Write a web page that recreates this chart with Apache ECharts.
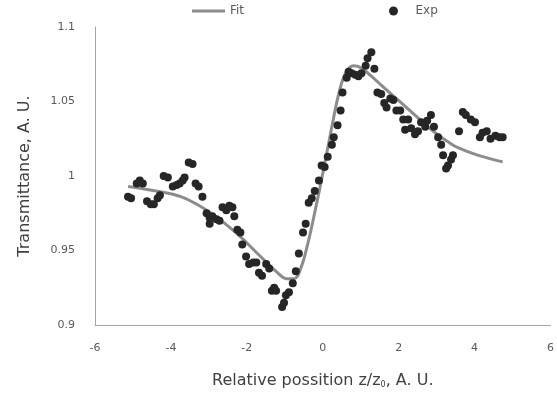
<!DOCTYPE html>
<html>
<head>
<meta charset="utf-8">
<script src="https://cdn.jsdelivr.net/npm/echarts@6/dist/echarts.min.js"></script>
<style>
  html, body { margin: 0; padding: 0; background: #fff; }
  #chart-container { width: 557px; height: 396px; }
</style>
</head>
<body>
<div id="chart-container"></div>
<script>
var expX = [-5.13, -5.05, -4.90, -4.82, -4.74, -4.63, -4.53, -4.45, -4.35, -4.29,
  -4.19, -4.08, -3.95, -3.85, -3.77, -3.69, -3.64, -3.53, -3.43, -3.35,
  -3.27, -3.17, -3.06, -2.98, -2.91, -2.98, -2.80, -2.72, -2.64, -2.54,
  -2.46, -2.38, -2.33, -2.25, -2.17, -2.12, -2.02, -1.94, -1.83, -1.75,
  -1.68, -1.60, -1.49, -1.41, -1.34, -1.28, -1.23, -1.07, -1.02, -0.97,
  -0.89, -0.79, -0.71, -0.63, -0.52, -0.45, -0.37, -0.29, -0.21, -0.10,
  -0.03, 0.05, 0.13, 0.24, 0.29, 0.39, 0.47, 0.52, 0.63, 0.68,
  0.76, 0.86, 0.94, 1.02, 1.13, 1.18, 1.28, 1.36, 1.44, 1.54,
  1.62, 1.68, 1.78, 1.86, 1.94, 2.04, 2.12, 2.25, 2.17, 2.33,
  2.43, 2.51, 2.59, 2.70, 2.75, 2.85, 2.93, 3.04, 3.12, 3.17,
  3.25, 3.30, 3.38, 3.43, 3.59, 3.69, 3.77, 3.90, 4.01, 4.14,
  4.21, 4.32, 4.42, 4.55, 4.66, 4.74];
var expY = [0.986, 0.985, 0.995, 0.997, 0.995, 0.983, 0.981, 0.981, 0.985, 0.987,
  1.000, 0.999, 0.993, 0.994, 0.995, 0.997, 0.999, 1.009, 1.008, 0.995,
  0.993, 0.986, 0.975, 0.972, 0.973, 0.968, 0.971, 0.970, 0.979, 0.977,
  0.980, 0.979, 0.973, 0.964, 0.962, 0.954, 0.946, 0.941, 0.942, 0.942,
  0.935, 0.933, 0.941, 0.938, 0.923, 0.925, 0.923, 0.912, 0.915, 0.920,
  0.922, 0.928, 0.936, 0.948, 0.962, 0.968, 0.982, 0.985, 0.990, 0.997,
  1.007, 1.006, 1.013, 1.021, 1.026, 1.034, 1.044, 1.056, 1.066, 1.070,
  1.069, 1.068, 1.067, 1.069, 1.074, 1.079, 1.083, 1.072, 1.056, 1.055,
  1.049, 1.046, 1.052, 1.051, 1.044, 1.044, 1.038, 1.038, 1.031, 1.032,
  1.028, 1.030, 1.036, 1.033, 1.037, 1.041, 1.033, 1.026, 1.021, 1.014,
  1.005, 1.007, 1.011, 1.014, 1.030, 1.043, 1.041, 1.038, 1.036, 1.026,
  1.029, 1.030, 1.025, 1.027, 1.026, 1.026];

// fitted curve, sampled by eye
var fitX = [-5.13, -4.29, -3.72, -3.25, -2.91, -2.72, -2.20, -1.68, -1.23, -0.94,
  -0.76, -0.58, -0.40, -0.24, -0.10, 0.08, 0.24, 0.42, 0.60, 0.81,
  1.02, 1.28, 1.54, 2.07, 2.51, 2.96, 3.30, 3.56, 4.08, 4.74];
var fitY = [0.993, 0.9895, 0.986, 0.980, 0.9745, 0.971, 0.960, 0.947, 0.936, 0.931,
  0.931, 0.938, 0.954, 0.972, 0.989, 1.012, 1.033, 1.055, 1.069, 1.074,
  1.0725, 1.067, 1.061, 1.049, 1.039, 1.029, 1.023, 1.019, 1.014, 1.0095];

var expData = expX.map(function (x, i) { return [x, expY[i]]; });
var fitData = fitX.map(function (x, i) { return [x, fitY[i]]; });

var font = 'DejaVu Sans';
var dom = document.getElementById('chart-container');
var myChart = echarts.init(dom, null, { renderer: 'canvas' });

var option = {
  animation: false,
  textStyle: { fontFamily: font },
  legend: [
    {
      data: [{ name: 'Fit', icon: 'rect' }],
      left: 187, top: 0,
      itemWidth: 33, itemHeight: 3,
      textStyle: { color: '#595959', fontSize: 12, fontFamily: font }
    },
    {
      data: [{ name: 'Exp', icon: 'circle' }],
      left: 384, top: 0,
      itemWidth: 34, itemHeight: 9,
      textStyle: { color: '#595959', fontSize: 12, fontFamily: font }
    }
  ],
  grid: { left: 95, right: 4, top: 27, bottom: 71, containLabel: false },
  xAxis: {
    type: 'value',
    min: -6, max: 6, interval: 2,
    axisLine: { show: true, onZero: false, lineStyle: { color: '#a6a6a6', width: 1 } },
    axisTick: { show: false },
    splitLine: { show: false },
    axisLabel: { color: '#595959', fontSize: 11, fontFamily: font, margin: 18 },
    name: 'Relative possition z/z{sub|0}, A. U.',
    nameLocation: 'middle',
    nameGap: 48,
    nameTextStyle: {
      color: '#404040', fontSize: 16, fontFamily: font,
      rich: { sub: { fontSize: 8, verticalAlign: 'bottom', padding: [8, 0, 0, 0], color: '#404040', fontFamily: font } }
    }
  },
  yAxis: {
    type: 'value',
    min: 0.9, max: 1.1, interval: 0.05,
    axisLine: { show: true, onZero: false, lineStyle: { color: '#a6a6a6', width: 1 } },
    axisTick: { show: false },
    splitLine: { show: false },
    axisLabel: {
      color: '#595959', fontSize: 11, fontFamily: font, margin: 20,
      formatter: function (v) { return String(Math.round(v * 100) / 100); }
    },
    name: 'Transmittance, A. U.',
    nameLocation: 'middle',
    nameGap: 62,
    nameTextStyle: { color: '#404040', fontSize: 16, fontFamily: font }
  },
  series: [
    {
      name: 'Fit',
      type: 'line',
      data: fitData,
      smooth: 0.4,
      showSymbol: false,
      itemStyle: { color: '#8c8c8c' },
      lineStyle: { color: '#8c8c8c', width: 3 },
      z: 2
    },
    {
      name: 'Exp',
      type: 'scatter',
      data: expData,
      symbolSize: 8,
      itemStyle: { color: '#262626', opacity: 1 },
      z: 3
    }
  ]
};

myChart.setOption(option);
window.addEventListener('resize', myChart.resize);
</script>
</body>
</html>
